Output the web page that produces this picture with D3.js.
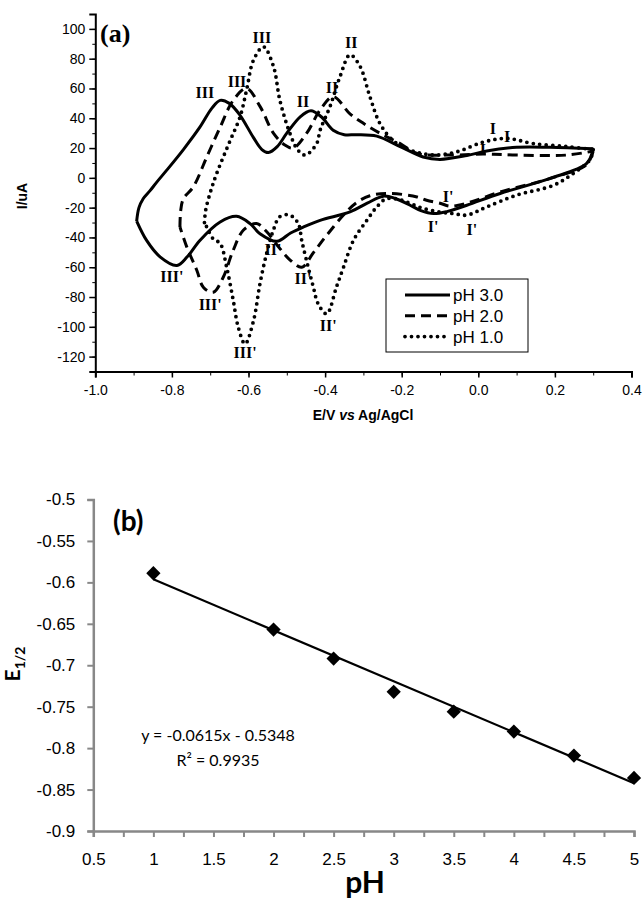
<!DOCTYPE html>
<html>
<head>
<meta charset="utf-8">
<script src="https://cdn.jsdelivr.net/npm/d3@7"></script>
<style>
  body { margin: 0; background: #fff; }
  svg { display: block; }
</style>
</head>
<body>
<div id="container"></div>
<script>
const width = 643, height = 907;

/* DATA (a) : cyclic voltammograms, [E (V), I (uA)] */
const ph3Anodic = [[-0.892,-29],[-0.886,-20],[-0.875,-14],[-0.857,-8.6],[-0.84,-3],[-0.814,5],[-0.77,19],[-0.727,34],[-0.695,47],[-0.674,52],[-0.65,50],[-0.622,42],[-0.587,27],[-0.565,19],[-0.548,17],[-0.525,21],[-0.5,30],[-0.465,41],[-0.437,45],[-0.41,41],[-0.379,32],[-0.35,29],[-0.318,29],[-0.265,28],[-0.204,21],[-0.144,14],[-0.1,12.4],[-0.03,15],[0.022,18],[0.1,20.5],[0.187,20.5],[0.3,19.5]]
const ph3Cathodic = [[0.3,19.5],[0.283,9.7],[0.187,-0.4],[0.057,-10.5],[-0.03,-18.4],[-0.08,-22.5],[-0.117,-24],[-0.15,-22],[-0.178,-18.4],[-0.215,-14],[-0.248,-12.3],[-0.29,-17],[-0.335,-22.9],[-0.413,-28.5],[-0.457,-33],[-0.49,-37],[-0.526,-42.6],[-0.57,-37.5],[-0.596,-30.7],[-0.631,-25.8],[-0.674,-29.6],[-0.727,-42],[-0.76,-53],[-0.787,-58.8],[-0.831,-53],[-0.866,-42],[-0.892,-29]]

const ph2Anodic = [[-0.779,-33],[-0.777,-22],[-0.77,-14],[-0.744,-6],[-0.709,14],[-0.674,34],[-0.64,52],[-0.605,60],[-0.57,48],[-0.535,30],[-0.505,22],[-0.483,20],[-0.448,30],[-0.413,45.6],[-0.379,54.5],[-0.335,43],[-0.3,36.6],[-0.257,30],[-0.204,23],[-0.16,16.4],[-0.074,15.3],[0.013,16],[0.1,15.3],[0.231,15.3],[0.3,18]]
const ph2Cathodic = [[0.3,18],[0.283,9],[0.187,-0.5],[0.057,-9.5],[-0.03,-17],[-0.074,-19],[-0.1,-17],[-0.135,-15],[-0.16,-12.8],[-0.23,-10.5],[-0.283,-12],[-0.32,-17],[-0.352,-25],[-0.396,-38.6],[-0.43,-50],[-0.461,-60],[-0.492,-55],[-0.518,-47.5],[-0.553,-36],[-0.579,-30.7],[-0.613,-35],[-0.64,-48.7],[-0.666,-66.7],[-0.692,-76.8],[-0.718,-73.4],[-0.735,-62],[-0.761,-46.5],[-0.779,-33]]

const ph1Anodic = [[-0.715,-30],[-0.712,-22],[-0.70,-10],[-0.683,3],[-0.648,25],[-0.622,41],[-0.605,59],[-0.587,79],[-0.561,88],[-0.535,75],[-0.518,52],[-0.492,30],[-0.472,19],[-0.452,15.3],[-0.422,23],[-0.413,32],[-0.387,48],[-0.361,68],[-0.335,82.6],[-0.309,75],[-0.283,54.5],[-0.257,36.6],[-0.222,25],[-0.178,18.7],[-0.117,15.3],[-0.056,17.5],[0.013,24],[0.074,26.5],[0.144,23],[0.231,21],[0.3,19]]
const ph1Cathodic = [[0.3,19],[0.291,12],[0.248,3],[0.196,-5],[0.1,-11.6],[0.022,-19.5],[-0.03,-25],[-0.065,-24],[-0.1,-23],[-0.15,-20],[-0.2,-15],[-0.24,-14],[-0.265,-19.5],[-0.291,-28.5],[-0.326,-42],[-0.352,-60],[-0.37,-73],[-0.396,-91.3],[-0.418,-84.6],[-0.431,-73],[-0.448,-56],[-0.461,-42],[-0.47,-30.7],[-0.492,-25],[-0.518,-26],[-0.535,-35],[-0.553,-51],[-0.57,-71],[-0.587,-96],[-0.609,-111.5],[-0.627,-100],[-0.64,-82],[-0.657,-60],[-0.674,-44],[-0.692,-41],[-0.709,-33],[-0.715,-30]]

const legendNames = ["pH 3.0", "pH 2.0", "pH 1.0"]

// peak labels [text, E, I]
const peakLabels = [
  ["III",-0.714,53.7],["III",-0.63,61],["III",-0.565,90.7],
  ["II",-0.458,47.6],["II",-0.382,57],["II",-0.332,87.3],
  ["I",0.038,29.4],["I",0.075,24],["I",0.012,15.3],
  ["I'",-0.118,-36.6],["I'",-0.079,-16.4],["I'",-0.017,-38.6],
  ["II'",-0.536,-52],["II'",-0.458,-71],["II'",-0.392,-103],
  ["III'",-0.8,-70],["III'",-0.70,-89],["III'",-0.609,-121]
]

/* DATA (b) : half-wave potential vs pH */
const phValues = [1, 2, 2.5, 3, 3.5, 4, 4.5, 5]
const e12Values = [-0.589, -0.657, -0.692, -0.732, -0.756, -0.780, -0.809, -0.836]
const fitSlope = -0.0615, fitIntercept = -0.5348
const fitText = ["y = -0.0615x - 0.5348", "R² = 0.9935"]

const svg = d3.select("#container").append("svg")
  .attr("width", width)
  .attr("height", height)
svg.append("rect").attr("width", width).attr("height", height).attr("fill", "#fff")

/* ---------- CHART (a) ---------- */
const xA = d3.scaleLinear().domain([-1.0, 0.4]).range([95.3, 631.5])
const yA = d3.scaleLinear().domain([-130, 110]).range([371.5, 14])

const gA = svg.append("g").attr("font-family", "Arial, 'Liberation Sans', sans-serif")

// minor ticks
gA.append("g")
  .attr("transform", `translate(0,${yA(-130)})`)
  .call(d3.axisBottom(xA).tickValues(d3.range(-1.0, 0.401, 0.1)).tickSize(4).tickFormat(""))
  .call(g => g.select(".domain").remove())
gA.append("g")
  .attr("transform", `translate(${xA(-1.0)},0)`)
  .call(d3.axisLeft(yA).tickValues(d3.range(-130, 111, 10)).tickSize(3).tickFormat(""))
  .call(g => g.select(".domain").remove())

const xAxisA = gA.append("g")
  .attr("transform", `translate(0,${yA(-130)})`)
  .call(d3.axisBottom(xA).tickValues(d3.range(-1.0, 0.401, 0.2)).tickSize(6).tickPadding(8).tickFormat(d3.format(".1f")))
const yAxisA = gA.append("g")
  .attr("transform", `translate(${xA(-1.0)},0)`)
  .call(d3.axisLeft(yA).tickValues(d3.range(-120, 101, 20)).tickSize(6).tickPadding(4))

;[xAxisA, yAxisA].forEach(ax => {
  ax.selectAll("text").attr("font-size", 14).attr("fill", "#000")
  ax.select(".domain").attr("stroke-width", 2)
  ax.selectAll(".tick line").attr("stroke-width", 1.5)
})
yAxisA.selectAll("text").text(d => d < 0 ? "-" + Math.abs(d) : d)
xAxisA.selectAll("text").text(d => d3.format(".1f")(d).replace("−", "-"))
gA.selectAll("g.tick line").attr("stroke", "#000")

gA.append("text")
  .attr("transform", "rotate(-90)")
  .attr("x", -196).attr("y", 27)
  .attr("text-anchor", "middle")
  .attr("font-weight", "bold").attr("font-size", 14)
  .text("I/uA")

const xLab = gA.append("text")
  .attr("x", 363).attr("y", 420)
  .attr("text-anchor", "middle")
  .attr("font-weight", "bold").attr("font-size", 14)
xLab.append("tspan").text("E/V ")
xLab.append("tspan").attr("font-style", "italic").text("vs")
xLab.append("tspan").text(" Ag/AgCl")

const cvLine = d3.line()
  .x(d => xA(d[0]))
  .y(d => yA(d[1]))
  .curve(d3.curveCatmullRom.alpha(0.5))

const series = [
  { branches: [ph3Anodic, ph3Cathodic], dash: null, width: 3, cap: "butt" },
  { branches: [ph2Anodic, ph2Cathodic], dash: "10 6", width: 3, cap: "butt" },
  { branches: [ph1Anodic, ph1Cathodic], dash: "0 6.5", width: 3.8, cap: "round" }
]

series.forEach(s => {
  gA.selectAll(null)
    .data(s.branches)
    .join("path")
    .attr("d", cvLine)
    .attr("fill", "none")
    .attr("stroke", "#000")
    .attr("stroke-width", s.width)
    .attr("stroke-dasharray", s.dash)
    .attr("stroke-linecap", s.cap)
})

gA.selectAll("text.peak")
  .data(peakLabels)
  .join("text")
  .attr("class", "peak")
  .attr("x", d => xA(d[1]))
  .attr("y", d => yA(d[2]))
  .attr("text-anchor", "middle")
  .attr("font-family", "'Liberation Serif', 'Times New Roman', serif")
  .attr("font-weight", "bold")
  .attr("font-size", 16)
  .text(d => d[0])

gA.append("text")
  .attr("x", 100).attr("y", 42)
  .attr("font-family", "'Liberation Serif', 'Times New Roman', serif")
  .attr("font-weight", "bold").attr("font-size", 26)
  .text("(a)")

// legend
const legend = gA.append("g").attr("transform", "translate(386,279)")
legend.append("rect")
  .attr("width", 142).attr("height", 73)
  .attr("fill", "#fff").attr("stroke", "#000").attr("stroke-width", 1)
const legendRows = legend.selectAll("g.row")
  .data(legendNames)
  .join("g")
  .attr("class", "row")
  .attr("transform", (d, i) => `translate(0,${16 + i * 20.8})`)
legendRows.append("line")
  .attr("x1", 19).attr("x2", 64)
  .attr("stroke", "#000")
  .attr("stroke-width", (d, i) => series[i].width)
  .attr("stroke-dasharray", (d, i) => series[i].dash)
  .attr("stroke-linecap", (d, i) => series[i].cap)
legendRows.append("text")
  .attr("x", 67).attr("y", 6)
  .attr("font-size", 17)
  .text(d => d)

/* ---------- CHART (b) ---------- */
const xB = d3.scaleLinear().domain([0.5, 5]).range([93.3, 634])
const yB = d3.scaleLinear().domain([-0.9, -0.5]).range([831, 499.5])
const gB = svg.append("g").attr("font-family", "Lato, 'Open Sans', sans-serif")

const xAxisB = gB.append("g")
  .attr("transform", `translate(0,${yB(-0.9)})`)
  .call(d3.axisBottom(xB).tickValues(d3.range(0.5, 5.01, 0.25)).tickSize(6).tickPadding(16)
    .tickFormat(d => d % 0.5 === 0 ? d : ""))
const yAxisB = gB.append("g")
  .attr("transform", `translate(${xB(0.5)},0)`)
  .call(d3.axisLeft(yB).tickValues(d3.range(-0.9, -0.499, 0.05)).tickSize(6).tickPadding(12)
    .tickFormat(d => (+d.toFixed(2)).toString()))

;[xAxisB, yAxisB].forEach(ax => {
  ax.select(".domain").attr("stroke", "#888").attr("stroke-width", 2.5)
  ax.selectAll(".tick line").attr("stroke", "#888").attr("stroke-width", 2)
  ax.selectAll("text").attr("font-size", 17).attr("fill", "#000")
})

const fitLine = d3.line().x(d => xB(d)).y(d => yB(fitSlope * d + fitIntercept))
gB.append("path")
  .attr("d", fitLine([phValues[0], phValues[phValues.length - 1]]))
  .attr("stroke", "#000").attr("stroke-width", 2.2).attr("fill", "none")

gB.selectAll("path.pt")
  .data(phValues)
  .join("path")
  .attr("class", "pt")
  .attr("d", d3.symbol(d3.symbolDiamond2, 130))
  .attr("transform", (d, i) => `translate(${xB(d)},${yB(e12Values[i])})`)
  .attr("fill", "#000")

gB.append("text")
  .attr("x", 113).attr("y", 531)
  .attr("font-weight", "bold").attr("font-size", 28)
  .text("(b)")

gB.selectAll("text.fit")
  .data(fitText)
  .join("text")
  .attr("class", "fit")
  .attr("x", 218).attr("y", (d, i) => 741 + i * 25)
  .attr("text-anchor", "middle")
  .attr("font-size", 16)
  .text(d => d)

const eLab = gB.append("text")
  .attr("transform", "rotate(-90)")
  .attr("x", -664).attr("y", 20)
  .attr("text-anchor", "middle")
  .attr("font-weight", "bold").attr("font-size", 21)
eLab.append("tspan").text("E")
eLab.append("tspan").attr("font-size", 14).attr("dy", 5).text("1/2")

gB.append("text")
  .attr("x", 365).attr("y", 893)
  .attr("text-anchor", "middle")
  .attr("font-weight", "bold").attr("font-size", 30)
  .text("pH")
</script>
</body>
</html>
